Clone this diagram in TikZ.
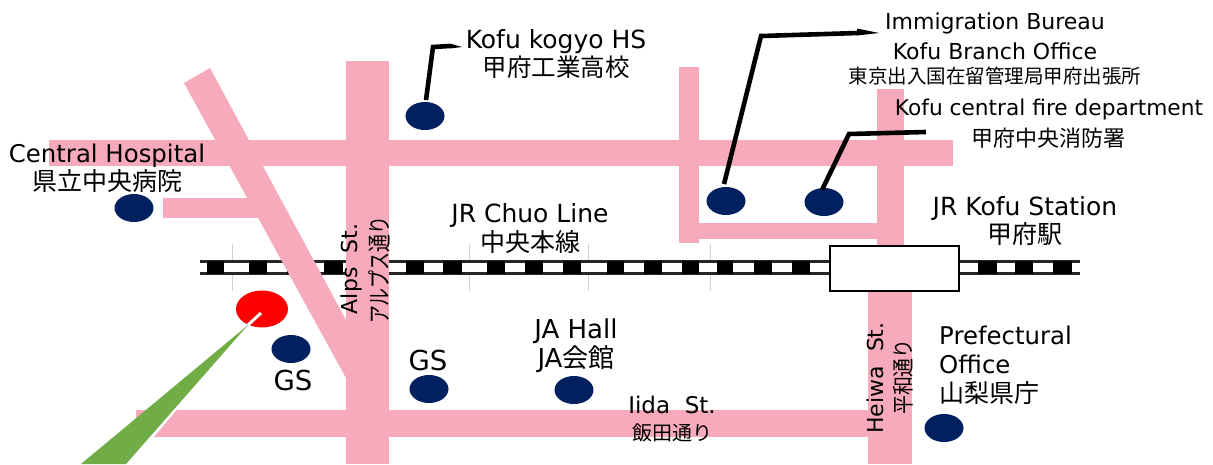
\documentclass[tikz,border=0pt]{standalone}
\usepackage{fontspec}
\usepackage{graphicx}
\setmainfont{DejaVu Sans}
\newfontfamily\cjk{Noto Sans CJK JP}
\definecolor{roadpink}{RGB}{246,170,187}
\definecolor{dotnavy}{RGB}{0,32,96}
\definecolor{pingreen}{RGB}{112,173,71}
\newcommand{\ltxt}[2]{\fontsize{#1}{#1}\selectfont #2}
\newcommand{\jtxt}[2]{{\fontsize{#1}{#1}\selectfont\cjk #2}}
\usetikzlibrary{shapes.geometric}
\tikzset{
  x=1pt,y=-1pt,
  road/.style={fill=roadpink,draw=none},
  poi/.style={ellipse,fill=dotnavy,minimum width=39pt,minimum height=28pt,inner sep=0pt,draw=none},
  lbl/.style={inner sep=0pt,align=center,text=black,font=\fontsize{22}{22}\selectfont},
  leader/.style={line width=4.6pt,black,line join=miter},
  faint/.style={line width=0.6pt,black!18},
}
\begin{document}
\begin{tikzpicture}
\useasboundingbox (0,0) rectangle (1213,464);
% faint ticks
\foreach \x in {232,469,588,710}{\draw[faint] (\x,244) -- (\x,291);}
% rail
\fill[black!85] (200,260) rectangle (1080,275);
\fill[white] (200,263) rectangle (1080,272);
\foreach \a/\b in {207/224,249/267,287/305,324/343,406/424,443/462,487/505,525/543,563/581,607/624,644/662,682/699,717/733,754/772,792/810,978/997,1015/1033,1053/1072}{\fill[black] (\a,261) rectangle (\b,274);}
% roads
\fill[road] (49,140) rectangle (953,166);
\fill[road] (346,61) rectangle (389,464);
\fill[road] (184,83) -- (210,68) -- (346,320) -- (346,378) -- cycle;
\fill[road] (163,198) rectangle (260,218);
\fill[road] (136,410) rectangle (912,437);
\fill[road] (868,290) rectangle (912,464);
\fill[road] (877,89) rectangle (904,245);
\fill[road] (679,67) rectangle (699,243);
\fill[road] (699,223) rectangle (877,239);
% station
\node[draw=black,line width=2pt,fill=white,minimum width=129pt,minimum height=45pt,inner sep=0pt] (station) at (894,268) {};
% pin
\fill[white] (248,325) -- (131,464) -- (124,464) -- cycle;
\fill[pingreen] (81,464) -- (248,325) -- (126,464) -- cycle;
\node[ellipse,fill=red,minimum width=52pt,minimum height=37pt,inner sep=0pt] (pin) at (262,309) {};
\coordinate (pinA) at (248,325);
\coordinate (pinB) at (261,313);
\draw[white,line width=3pt] (pinA) -- (pinB);
% POIs
\node[poi] (kogyo) at (425,116) {};
\node[poi] (central) at (134,208) {};
\node[poi] (gsa) at (291,349) {};
\node[poi] (gsb) at (429,389) {};
\node[poi] (ja) at (574,390) {};
\node[poi] (immi) at (726,201) {};
\node[poi] (fire) at (824,202) {};
\node[poi] (pref) at (944,428) {};
% leaders
\coordinate (k1) at (426,100); \coordinate (k2) at (433,47); \coordinate (k3) at (450,46); \coordinate (k4) at (462,47);
\draw[leader] (k1) -- (k2) -- (k3);
\fill (450,43.5) -- (k4) -- (450,48.5) -- cycle;
\coordinate (i1) at (724,184); \coordinate (i2) at (761,36); \coordinate (i3) at (858,33); \coordinate (i4) at (879,33);
\draw[leader] (i1) -- (i2) -- (i3);
\fill (857,28.5) -- (i4) -- (857,35.5) -- cycle;
\coordinate (f1) at (822,190); \coordinate (f2) at (849,134); \coordinate (f3) at (926,132);
\draw[leader] (f1) -- (f2) -- (f3);
% labels
\node[lbl] (t1a) at (556,42) {\ltxt{25}{Kofu kogyo HS}};
\node[lbl] (t1b) at (556,67) {\jtxt{24.5}{甲府工業高校}};
\node[lbl] (t2) at (995,23) {\ltxt{22}{Immigration Bureau}};
\node[lbl] (t3) at (995,51) {\ltxt{22}{Kofu Branch Office}};
\node[lbl] (t4) at (995,76) {\jtxt{19.5}{東京出入国在留管理局甲府出張所}};
\node[lbl] (t5) at (1049,110) {\ltxt{21.7}{Kofu central fire department}};
\node[lbl] (t6) at (1048,138) {\jtxt{22}{甲府中央消防署}};
\node[lbl] (t7a) at (107,156) {\ltxt{24.4}{Central Hospital}};
\node[lbl] (t7b) at (107,181) {\jtxt{25}{県立中央病院}};
\node[lbl] (t8a) at (530,215) {\ltxt{25}{JR Chuo Line}};
\node[lbl] (t8b) at (530,242) {\jtxt{25}{中央本線}};
\node[lbl] (t9a) at (1025,209) {\ltxt{25}{JR Kofu Station}};
\node[lbl] (t9b) at (1025,234) {\jtxt{25}{甲府駅}};
\node[lbl] (t10a) at (576,331) {\ltxt{26}{JA Hall}};
\node[lbl] (t10b) at (576,359) {\ltxt{26}{JA}\jtxt{26}{会館}};
\node[lbl] (t11a) at (672,405) {\ltxt{23}{Iida\ \ St.}};
\node[lbl] (t11b) at (672,433) {\jtxt{20}{飯田通り}};
\node[lbl,anchor=west] (t12a) at (939,335) {\ltxt{24.4}{Prefectural}};
\node[lbl,anchor=west] (t12b) at (939,364) {\ltxt{24.4}{Office}};
\node[lbl,anchor=west] (t12c) at (939,393) {\jtxt{25}{山梨県庁}};
\node[lbl] (t13) at (293,380) {\ltxt{27.5}{GS}};
\node[lbl] (t14) at (428,360) {\ltxt{27.5}{GS}};
\node[lbl,rotate=90] (t15) at (351,269) {\ltxt{22}{Alps\ \ St.}};
\node[lbl,rotate=90] (t16) at (379,270) {\scalebox{0.75}[1]{\jtxt{24}{アルプス通り}}};
\node[lbl,rotate=90] (t17) at (875,378) {\ltxt{22}{Heiwa\ \ St.}};
\node[lbl,rotate=90] (t18) at (903,377) {\scalebox{0.86}[1]{\jtxt{22}{平和通り}}};
\end{tikzpicture}
\end{document}
